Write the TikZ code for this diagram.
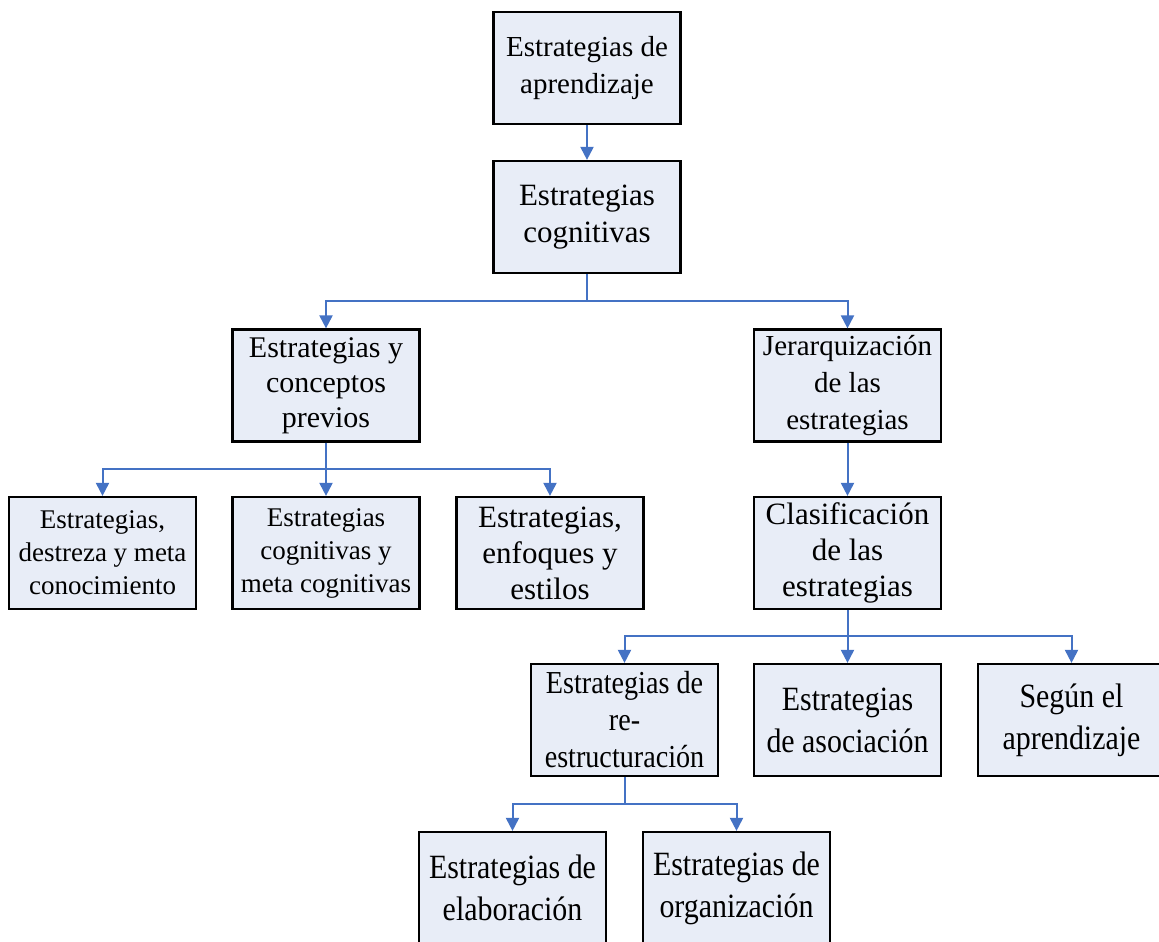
\documentclass[tikz,border=0pt]{standalone}
\usepackage{fontspec}
\setmainfont{Liberation Serif}
\newfontfamily\narrowserif[FakeStretch=0.88]{Liberation Serif}
\usetikzlibrary{arrows.meta}
\definecolor{boxfill}{HTML}{E8EDF7}
\definecolor{linkblue}{HTML}{4472C4}
\tikzset{
  box/.style={draw=black, line width=2.2pt, fill=boxfill,
    minimum width=187pt, minimum height=112pt, inner sep=0pt,
    align=center},
  conn/.style={draw=linkblue, line width=2pt,
    -{Triangle[length=13pt,width=13pt]}},
  link/.style={draw=linkblue, line width=2pt},
  fsA/.style={font=\fontsize{29pt}{37pt}\selectfont},
  fsB/.style={font=\fontsize{31pt}{37pt}\selectfont},
  fsC/.style={font=\fontsize{30pt}{35pt}\selectfont},
  fsD/.style={font=\fontsize{27pt}{33pt}\selectfont},
  fsE/.style={font=\fontsize{31pt}{36pt}\selectfont},
  fsF/.style={font=\narrowserif\fontsize{32pt}{37pt}\selectfont},
  fsG/.style={font=\narrowserif\fontsize{34pt}{42pt}\selectfont},
}
\begin{document}
\begin{tikzpicture}[x=1pt, y=-1pt]
\useasboundingbox (0,0) rectangle (1159,942);
\clip (0,0) rectangle (1159,942);

% junction points of the branching connectors
\coordinate (j1) at (587,301);
\coordinate (j2) at (326,469);
\coordinate (j3) at (847.5,636);
\coordinate (j4) at (624.5,804);

% boxes
\node[box, fsA] (b1) at (587,68) {Estrategias de\\aprendizaje};
\node[box, fsB] (b2) at (587,217) {Estrategias\\cognitivas};
\node[box, fsC] (b3) at (326,385.5) {Estrategias y\\conceptos\\previos};
\node[box, fsA] (b4) at (847.5,385.5) {Jerarquización\\de las\\estrategias};
\node[box, fsD] (b5) at (102.5,553) {Estrategias,\\destreza y meta\\conocimiento};
\node[box, fsD] (b6) at (326,553) {Estrategias\\cognitivas y\\meta cognitivas};
\node[box, fsE] (b7) at (550,553) {Estrategias,\\enfoques y\\estilos};
\node[box, fsE] (b8) at (847.5,553) {Clasificación\\de las\\estrategias};
\node[box, fsF] (b9) at (624.5,720) {Estrategias de\\re-\\estructuración};
\node[box, fsG] (b10) at (847.5,720) {Estrategias\\de asociación};
\node[box, fsG] (b11) at (1071.5,720) {Según el\\aprendizaje};
\node[box, fsG] (b12) at (512.5,888) {Estrategias de\\elaboración};
\node[box, fsG] (b13) at (736.5,888) {Estrategias de\\organización};

% connectors
\draw[conn] (b1.south) -- (b2.north);

\draw[link] (b2.south) -- (j1);
\draw[conn] (j1) -| (b3.north);
\draw[conn] (j1) -| (b4.north);

\draw[conn] (b3.south) -- (b6.north);
\draw[conn] (j2) -| (b5.north);
\draw[conn] (j2) -| (b7.north);

\draw[conn] (b4.south) -- (b8.north);

\draw[conn] (b8.south) -- (b10.north);
\draw[conn] (j3) -| (b9.north);
\draw[conn] (j3) -| (b11.north);

\draw[link] (b9.south) -- (j4);
\draw[conn] (j4) -| (b12.north);
\draw[conn] (j4) -| (b13.north);
\end{tikzpicture}
\end{document}
